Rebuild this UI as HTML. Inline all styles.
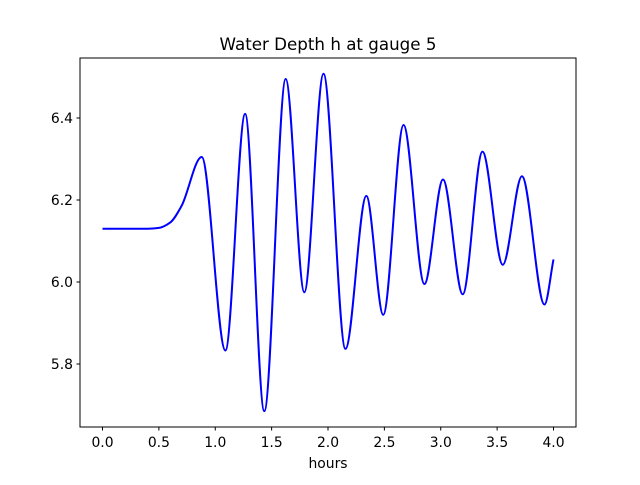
<!DOCTYPE html>
<html><head><meta charset="utf-8"><style>
body{margin:0;background:#fff;}
svg text{font-family:"DejaVu Sans","Liberation Sans",sans-serif;fill:#000;}
</style></head><body>
<svg id="chart" width="640" height="480" xmlns="http://www.w3.org/2000/svg">
<rect width="640" height="480" fill="#fff"/>
<text x="328" y="50" font-size="16.7" text-anchor="middle">Water Depth h at gauge 5</text>
<g id="ticks"></g>
<path id="line" fill="none" stroke="#0000ff" stroke-width="2"/>
<rect x="80" y="58" width="496" height="369" fill="none" stroke="#000" stroke-width="1"/>
<text x="328" y="468" font-size="13.9" text-anchor="middle">hours</text>
</svg>
<script>
const hours = [0,0.4,0.5,0.6,0.7,0.88,1.09,1.265,1.435,1.625,1.79,1.96,2.155,2.34,2.49,2.67,2.855,3.02,3.195,3.37,3.55,3.72,3.92,4.0];
const depth = [6.13,6.13,6.132,6.145,6.185,6.305,5.833,6.41,5.685,6.495,5.975,6.508,5.837,6.21,5.92,6.383,5.995,6.25,5.97,6.318,6.042,6.258,5.945,6.055];
const xTicks = [0,0.5,1,1.5,2,2.5,3,3.5,4];
const xTickLabels = ["0.0","0.5","1.0","1.5","2.0","2.5","3.0","3.5","4.0"];
const yTicks = [5.8,6.0,6.2,6.4];
const yTickLabels = ["5.8","6.0","6.2","6.4"];

const xs = v => 102.5 + v * 112.75;
const ys = v => 282 - (v - 6.0) * 410;
const NS = "http://www.w3.org/2000/svg";
const g = document.getElementById('ticks');
function mk(tag, attrs){const e=document.createElementNS(NS,tag);for(const k in attrs)e.setAttribute(k,attrs[k]);g.appendChild(e);return e;}
xTicks.forEach((t,i)=>{
  const l=mk('line',{x1:xs(t),x2:xs(t),y1:427,y2:430.5,stroke:'#000'});
  
  
  const tx=mk('text',{x:xs(t),y:447,'font-size':'13.9','text-anchor':'middle'});
  tx.textContent=xTickLabels[i];
  
  
});
yTicks.forEach((t,i)=>{
  const l=mk('line',{x1:76.5,x2:80,y1:ys(t),y2:ys(t),stroke:'#000'});
  
  
  const tx=mk('text',{x:73,y:ys(t)+5,'font-size':'13.9','text-anchor':'end'});
  tx.textContent=yTickLabels[i];
  
  
});
// monotone cubic (Fritsch-Carlson)
const px=hours.map(xs), py=depth.map(ys), n=px.length;
const d=[],m=new Array(n);
for(let i=0;i<n-1;i++)d.push((py[i+1]-py[i])/(px[i+1]-px[i]));
m[0]=d[0];m[n-1]=d[n-2];
for(let i=1;i<n-1;i++){
  if(d[i-1]*d[i]<=0)m[i]=0;
  else{const h0=px[i]-px[i-1],h1=px[i+1]-px[i];m[i]=3*(h0+h1)/((2*h1+h0)/d[i-1]+(h1+2*h0)/d[i]);}
}
let p=`M${px[0]},${py[0]}`;
for(let i=0;i<n-1;i++){
  const h=(px[i+1]-px[i])/3;
  p+=` C${px[i]+h},${py[i]+m[i]*h} ${px[i+1]-h},${py[i+1]-m[i+1]*h} ${px[i+1]},${py[i+1]}`;
}
document.getElementById('line').setAttribute('d',p);
</script>
</body></html>
